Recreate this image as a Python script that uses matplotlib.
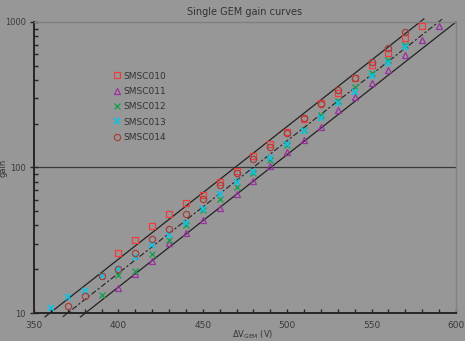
import matplotlib
matplotlib.use("Agg")
import matplotlib.pyplot as plt
from matplotlib.ticker import FixedLocator, NullFormatter

# measured gain vs. GEM voltage for each foil
v_010 = [400, 410, 420, 430, 440, 450, 460, 470, 480, 490, 500, 510, 520, 530, 540, 550, 560, 570, 580]
g_010 = [26.0, 31.9, 39.8, 48, 57, 64.5, 80, 94, 120, 144, 176, 215, 278, 323, 415, 508, 612, 776, 934]

v_011 = [400, 410, 420, 430, 440, 450, 460, 470, 480, 490, 500, 510, 520, 530, 540, 550, 560, 570, 580, 590]
g_011 = [14.8, 18.5, 22.9, 30.3, 35.7, 43.6, 53.0, 65.5, 81.0, 103, 127, 154, 190, 249, 303, 378, 468, 591, 750, 934]

v_012 = [390, 400, 410, 420, 430, 440, 450, 460, 470, 480, 490, 500, 510, 520, 530, 540, 550, 560, 570]
g_012 = [13.4, 18.2, 19.5, 25.4, 31.8, 40.3, 51.2, 60.6, 73.2, 92, 112, 143, 182, 229, 288, 355, 444, 545, 700]

v_013 = [360, 370, 380, 390, 400, 410, 420, 430, 440, 450, 460, 470, 480, 490, 500, 510, 520, 530, 540, 550, 560, 570]
g_013 = [10.9, 12.9, 14.2, 17.9, 20.0, 24.4, 29.5, 34.4, 41.3, 52, 65.8, 78.9, 92.6, 115.5, 145, 179, 220, 276, 332, 426, 519, 677]

v_014 = [370, 380, 390, 400, 410, 420, 430, 440, 450, 460, 470, 480, 490, 500, 510, 520, 530, 540, 550, 560, 570]
g_014 = [11.2, 13.0, 17.9, 20.0, 25.7, 32.3, 37.5, 48, 61, 76, 92, 115, 139, 172, 220, 272, 342, 410, 533, 658, 859]

# guide lines (start / end points)
upper_v = [356.5, 581]
upper_g = [9.4, 1050]
mid_v = [367, 592]
mid_g = [9.4, 1050]
lower_v = [377.5, 600]
lower_g = [9.4, 1000]

bg = "#979797"
fig = plt.figure(figsize=(4.65, 3.41), dpi=100, facecolor=bg)
ax = fig.add_axes([0.0731, 0.0821, 0.9075, 0.8534], facecolor=bg)

ax.set_yscale("log")
ax.set_xlim(350, 600)
ax.set_ylim(10, 1000)

# horizontal line at 100
ax.axhline(100, color="#3a3a3a", lw=0.9, zorder=1)

# guide lines
ax.plot(upper_v, upper_g, color="#222222", lw=0.9, clip_on=False, zorder=2)
ax.plot(mid_v, mid_g, color="#222222", lw=0.8, dashes=(5, 2, 2, 2), clip_on=False, zorder=2)
ax.plot(lower_v, lower_g, color="#222222", lw=0.9, clip_on=False, zorder=2)

# data series
ms = 4.5
ax.plot(v_010, g_010, ls="none", marker="s", ms=ms, mfc="none", mec="#f03c3c", mew=0.9, label="SMSC010", zorder=3)
ax.plot(v_011, g_011, ls="none", marker="^", ms=ms + 0.5, mfc="none", mec="#9b30a0", mew=0.9, label="SMSC011", zorder=3)
ax.plot(v_012, g_012, ls="none", marker="x", ms=ms, mec="#1aa050", mew=1.0, label="SMSC012", zorder=3)
ax.plot(v_013, g_013, ls="none", marker="x", ms=ms, mec="#17bfdf", mew=1.3, label="SMSC013", zorder=3)
ax.plot(v_014, g_014, ls="none", marker="o", ms=ms, mfc="none", mec="#a3403c", mew=0.9, label="SMSC014", zorder=3)

# spines
for side in ["left", "bottom"]:
    ax.spines[side].set_color("#262626")
    ax.spines[side].set_linewidth(1.4)
for side in ["top", "right"]:
    ax.spines[side].set_color("#808080")
    ax.spines[side].set_linewidth(1.0)

# ticks
ax.xaxis.set_major_locator(FixedLocator([350, 400, 450, 500, 550, 600]))
ax.xaxis.set_minor_locator(FixedLocator(list(range(350, 601, 10))))
ax.set_yticks([10, 100, 1000])
ax.set_yticklabels(["10", "100", "1000"])
ax.yaxis.set_minor_formatter(NullFormatter())
ax.tick_params(axis="x", which="both", direction="in", length=3, width=1.0, color="#262626",
               labelsize=6.5, labelcolor="#3a3a3a", pad=6, top=False)
ax.tick_params(axis="y", which="major", direction="inout", length=6, width=1.0, color="#262626",
               labelsize=6, labelcolor="#3a3a3a", pad=3, right=False)
ax.tick_params(axis="y", which="minor", direction="in", length=3, width=1.0, color="#262626", right=False)

ax.set_title("Single GEM gain curves", fontsize=7, color="#333333", pad=5)
ax.set_xlabel(r"$\Delta$V$_{\mathrm{GEM}}$ (V)", fontsize=6, color="#333333")
ax.xaxis.set_label_coords(0.517, -0.052)
ax.set_ylabel("gain", fontsize=6, color="#333333")
ax.yaxis.set_label_coords(-0.062, 0.5)

leg = ax.legend(loc="upper left", bbox_to_anchor=(0.18, 0.842), frameon=False,
                fontsize=6.5, handlelength=0.8, handletextpad=0.3, labelspacing=0.7,
                borderaxespad=0)
for t in leg.get_texts():
    t.set_color("#333333")

fig.savefig("out.png", dpi=100, facecolor=bg)
